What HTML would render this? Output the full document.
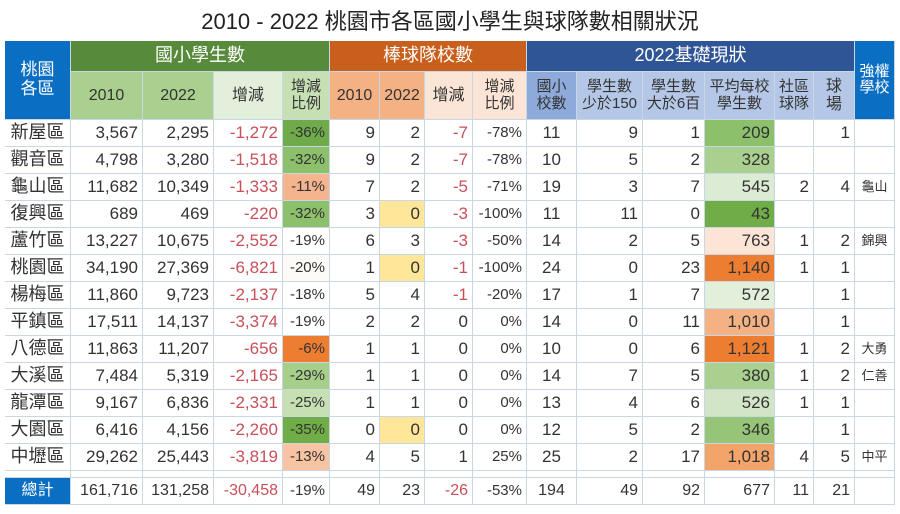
<!DOCTYPE html>
<html><head><meta charset="utf-8"><style>
body{margin:0;width:900px;height:514px;background:#fff;overflow:hidden;font-family:"Liberation Sans","Noto Sans CJK TC",sans-serif;}
#t{position:absolute;left:0;top:4px;width:900px;text-align:center;font-size:22px;font-weight:normal;color:#222;}
.c{position:absolute;box-sizing:border-box;border-right:1px solid #c9d6e3;border-bottom:1px solid #c9d6e3;display:flex;align-items:center;font-size:17px;color:#333;line-height:1.1;white-space:nowrap;overflow:hidden}
.r{justify-content:flex-end;padding-right:4px}
.m{justify-content:center;text-align:center}
.h{color:#fff}
.neg{color:#c8505a}
</style></head><body>
<div id="t">2010 - 2022 桃園市各區國小學生與球隊數相關狀況</div>
<div id="tbl"></div>
<script>
const districts=["新屋區","觀音區","龜山區","復興區","蘆竹區","桃園區","楊梅區","平鎮區","八德區","大溪區","龍潭區","大園區","中壢區"];
const stu2010=["3,567","4,798","11,682","689","13,227","34,190","11,860","17,511","11,863","7,484","9,167","6,416","29,262"];
const stu2022=["2,295","3,280","10,349","469","10,675","27,369","9,723","14,137","11,207","5,319","6,836","4,156","25,443"];
const stuDiff=["-1,272","-1,518","-1,333","-220","-2,552","-6,821","-2,137","-3,374","-656","-2,165","-2,331","-2,260","-3,819"];
const stuPct=["-36%","-32%","-11%","-32%","-19%","-20%","-18%","-19%","-6%","-29%","-25%","-35%","-13%"];
const bb2010=["9","9","7","3","6","1","5","2","1","1","1","0","4"];
const bb2022=["2","2","2","0","3","0","4","2","1","1","1","0","5"];
const bbDiff=["-7","-7","-5","-3","-3","-1","-1","0","0","0","0","0","1"];
const bbPct=["-78%","-78%","-71%","-100%","-50%","-100%","-20%","0%","0%","0%","0%","0%","25%"];
const schools=["11","10","19","11","14","24","17","14","10","14","13","12","25"];
const small150=["9","5","3","11","2","0","1","0","0","7","4","5","2"];
const big600=["1","2","7","0","5","23","7","11","6","5","6","2","17"];
const avgStu=["209","328","545","43","763","1,140","572","1,010","1,121","380","526","346","1,018"];
const commTeam=["","","2","","1","1","","","1","1","1","","4"];
const fields=["1","","4","","2","1","1","1","2","2","1","1","5"];
const strong=["","","龜山","","錦興","","","","大勇","仁善","","","中平"];
const totals=["總計","161,716","131,258","-30,458","-19%","49","23","-26","-53%","194","49","92","677","11","21",""];
const pctColor=["#6fab4a","#8cc06b","#f4b48e","#8cc06b","#fff","#fdfbf8","#fff","#fff","#ed7d31","#a6cf8a","#c6e0b4","#70ad47","#f8c3a2"];
const avgColor=["#8cc06b","#a9d08e","#dcebd3","#70ad47","#fce4d6","#ed7d31","#e2efda","#f4b183","#ed7d31","#a9d08e","#d2e6c7","#96c578","#f3a46b"];

const X=[5,71,143,214,283,330,380,425,473,527,577,643,705,775,814,855,895];
const tbl=document.getElementById('tbl');
function cell(c0,c1,y0,y1,txt,cls,bg,name,extra){
  const d=document.createElement('div');
  d.className='c '+cls;
  d.style.left=X[c0]+'px';d.style.top=y0+'px';
  d.style.width=(X[c1]-X[c0])+'px';d.style.height=(y1-y0)+'px';
  if(bg)d.style.background=bg;
  if(extra)Object.assign(d.style,extra);
  d.innerHTML=txt;
  
  
  tbl.appendChild(d);return d;
}
const hs={fontSize:'15px'};
cell(0,1,41,120,'桃園<br>各區','m h','#0a6fc2','header-district',{fontSize:'17px'});
cell(1,5,41,72,'國小學生數','m h','#578a3a','header-students',{fontSize:'18px'});
cell(5,9,41,72,'棒球隊校數','m h','#c85f1c','header-baseball',{fontSize:'18px'});
cell(9,15,41,72,'2022基礎現狀','m h','#2f5597','header-2022-status',{fontSize:'18px'});
cell(15,16,41,120,'強權<br>學校','m h','#0a6fc2','header-strong-school',hs);
const sub=[["2010","#a9d08e"],["2022","#a9d08e"],["增減","#e2efda"],["增減<br>比例","#c6e0b4"],
["2010","#f4b183"],["2022","#f4b183"],["增減","#fbe5d6"],["增減<br>比例","#fce4d6"],
["國小<br>校數","#8eaadb"],["學生數<br>少於150","#b4c7e7"],["學生數<br>大於6百","#b4c7e7"],["平均每校<br>學生數","#b4c7e7"],["社區<br>球隊","#b4c7e7"],["球<br>場","#b4c7e7"]];
sub.forEach((s,i)=>cell(i+1,i+2,72,120,s[0],'m','','subheader-'+(i+1),{background:s[1],fontSize:(s[0].length>6?'15px':'16px'),color:'#333'}));
const RH=27;
for(let i=0;i<districts.length;i++){
  const y0=120+i*RH,y1=y0+RH;
  const vals=[districts[i],stu2010[i],stu2022[i],stuDiff[i],stuPct[i],bb2010[i],bb2022[i],bbDiff[i],bbPct[i],schools[i],small150[i],big600[i],avgStu[i],commTeam[i],fields[i],strong[i]];
  vals.forEach((v,j)=>{
    let cls=j===0?'m':'r',bg='',ex={};
    if(j===0)ex.fontSize='18px';
    if(j===4)bg=pctColor[i];
    if(j===12)bg=avgColor[i];
    if(j===6&&v==='0')bg='#ffe699';
    if(j===9){cls='m';}
    if(j===15){cls='m';ex.fontSize='13px';}
    if(j===8)ex.fontSize='15px';
    if(j===4)ex.fontSize='15px';
    if((j===3||j===7)&&v.startsWith('-'))cls+=' neg';
    cell(j,j+1,y0,y1,v,cls,bg,'cell-r'+i+'-c'+j,ex);
  });
}
const ys=120+districts.length*RH;
for(let j=0;j<16;j++)cell(j,j+1,ys,478,'','',j===0?'#fff':'','spacer-'+j);
totals.forEach((v,j)=>{
  let cls=j===0?'m h':'r',bg=j===0?'#0a6fc2':'',ex={fontSize:'16px'};
  if(j===9)cls='m';
  if((j===3||j===7))cls+=' neg';
  if(j===4||j===8)ex.fontSize='15px';
  cell(j,j+1,478,505,v,cls,bg,'total-c'+j,ex);
});
</script>
</body></html>
